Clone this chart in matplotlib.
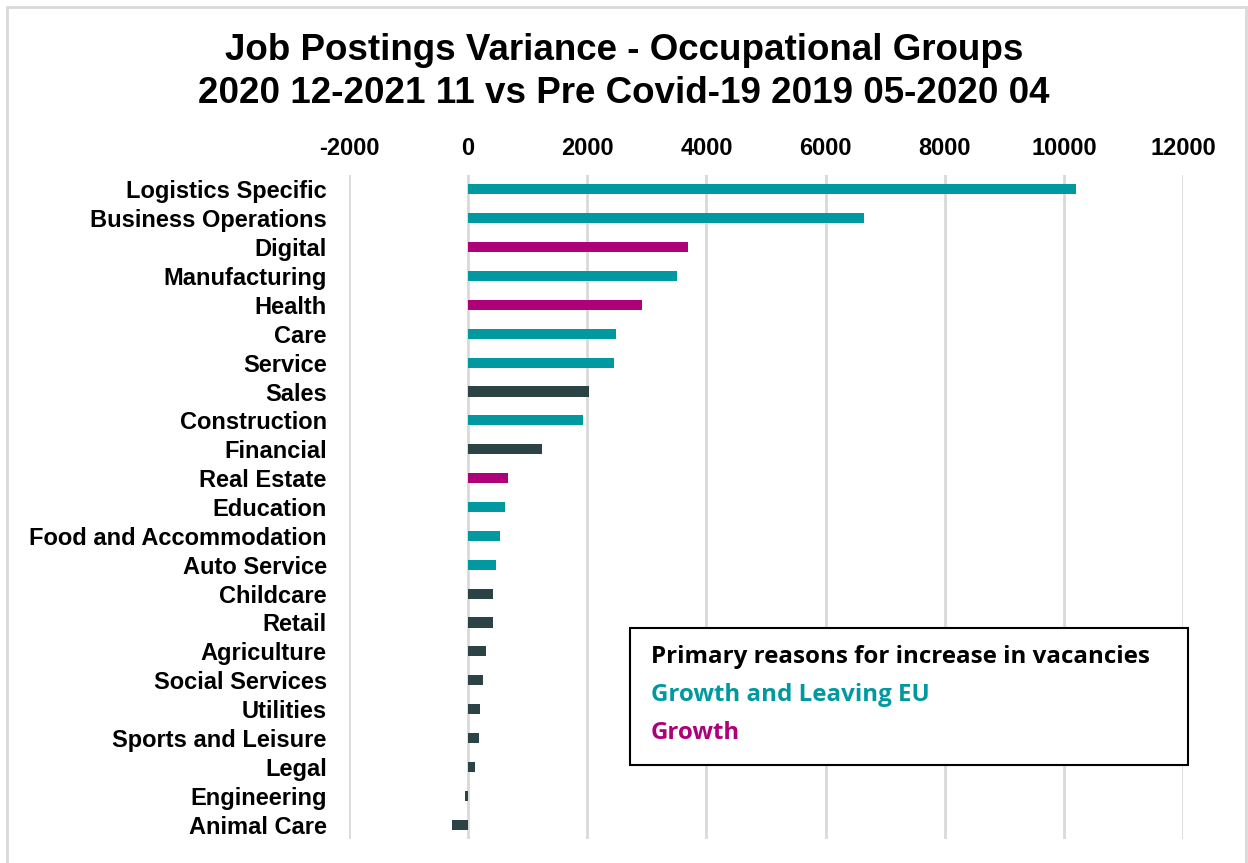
import matplotlib
matplotlib.use('Agg')
import matplotlib.pyplot as plt
from matplotlib.patches import Rectangle

# --- Data ---
grupos = ['Logistics Specific', 'Business Operations', 'Digital', 'Manufacturing',
          'Health', 'Care', 'Service', 'Sales', 'Construction', 'Financial',
          'Real Estate', 'Education', 'Food and Accommodation', 'Auto Service',
          'Childcare', 'Retail', 'Agriculture', 'Social Services', 'Utilities',
          'Sports and Leisure', 'Legal', 'Engineering', 'Animal Care']
variacion = [10210, 6640, 3690, 3505, 2920, 2485, 2450, 2025, 1930, 1235,
             670, 620, 535, 470, 420, 410, 300, 250, 195, 185, 112, -45, -275]
# motivo: 'ambos' = growth and leaving EU, 'crec' = growth, 'otro' = other
motivo = ['ambos', 'ambos', 'crec', 'ambos', 'crec', 'ambos', 'ambos', 'otro',
          'ambos', 'otro', 'crec', 'ambos', 'ambos', 'ambos', 'otro', 'otro',
          'otro', 'otro', 'otro', 'otro', 'otro', 'otro', 'otro']
ticks_x = [-2000, 0, 2000, 4000, 6000, 8000, 10000, 12000]

colores = {'ambos': '#00999F', 'crec': '#AE0078', 'otro': '#2C4346'}

titulo = 'Job Postings Variance - Occupational Groups\n2020 12-2021 11 vs Pre Covid-19 2019 05-2020 04'
leyenda_titulo = 'Primary reasons for increase in vacancies'
leyenda_items = [('Growth and Leaving EU', 'ambos'), ('Growth', 'crec')]

# --- Figure ---
plt.rcParams['font.family'] = ['Liberation Sans', 'DejaVu Sans']
fig = plt.figure(figsize=(12.48, 8.63), dpi=100)
ax = fig.add_axes([349 / 1248, 1 - 839 / 863, (1183 - 349) / 1248, (839 - 175) / 863])

posiciones = list(range(len(grupos)))
ax.barh(posiciones, variacion, height=0.35,
        color=[colores[m] for m in motivo], zorder=3)

ax.set_ylim(len(grupos) - 0.5, -0.5)
ax.set_xlim(-2000, 12000)
ax.set_xticks(ticks_x)
ax.set_xticklabels([str(t) for t in ticks_x], fontsize=17, fontweight='bold')
ax.xaxis.tick_top()
ax.tick_params(axis='x', length=0, pad=11)
ax.set_yticks(posiciones)
ax.set_yticklabels(grupos, fontsize=17, fontweight='bold')
ax.tick_params(axis='y', length=0, pad=16)
ax.grid(axis='x', color='#D9D9D9', linewidth=2, zorder=0)
for s in ax.spines.values():
    s.set_visible(False)

fig.text(0.5, 1 - 72 / 863, titulo, ha='center', va='center',
         fontsize=26.5, fontweight='bold', linespacing=1.27)

# legend box with coloured text
caja = Rectangle((630 / 1248, 1 - 765 / 863), (1188 - 630) / 1248, (765 - 628) / 863,
                 transform=fig.transFigure, facecolor='white', edgecolor='black',
                 linewidth=1.5, zorder=5)
fig.patches.append(caja)
fig.text(651 / 1248, 1 - 657 / 863, leyenda_titulo, ha='left', va='center',
         fontsize=17.4, fontweight='bold', family=['Open Sans', 'DejaVu Sans'],
         color='black', zorder=6)
for i, (txt, m) in enumerate(leyenda_items):
    fig.text(651 / 1248, 1 - (695 + 38 * i) / 863, txt, ha='left', va='center',
             fontsize=17.4, fontweight='bold', family=['Open Sans', 'DejaVu Sans'],
             color=colores[m], zorder=6)

# outer frame
borde = Rectangle((7 / 1248, -0.02), (1246 - 7) / 1248, 1.02 - 7 / 863,
                  transform=fig.transFigure, facecolor='none', edgecolor='#D9D9D9',
                  linewidth=2)
fig.patches.append(borde)

fig.savefig('out.png', dpi=100)
